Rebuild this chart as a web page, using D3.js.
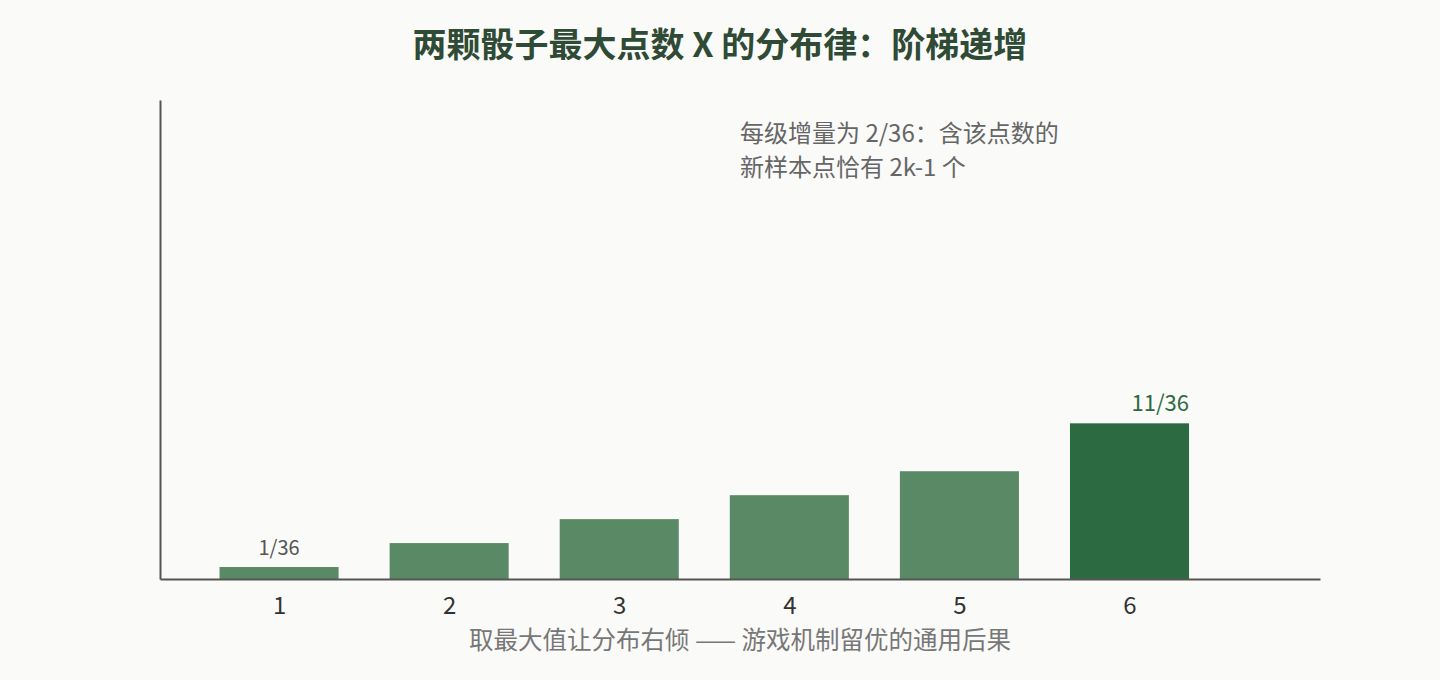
<!DOCTYPE html>
<html>
<head>
<meta charset="utf-8">
<script src="https://cdn.jsdelivr.net/npm/d3@7"></script>
<style>
  body { margin: 0; background: #fafaf8; }
  text { font-family: "Noto Sans CJK SC", "Noto Sans", sans-serif; }
</style>
</head>
<body>
<div id="chart"></div>
<script>
// values, in units of 1/36
var categories = [1, 2, 3, 4, 5, 6];
var counts = [1, 3, 5, 7, 9, 13];
var valueLabels = ["1/36", "", "", "", "", "11/36"];
var tickLabels = ["1", "2", "3", "4", "5", "6"];

var title = "两颗骰子最大点数 X 的分布律：阶梯递增";
var xTitle = "取最大值让分布右倾 —— 游戏机制留优的通用后果";
var note = ["每级增量为 2/36：含该点数的", "新样本点恰有 2k-1 个"];

var width = 1440, height = 680;
var margin = {top: 100, right: 120, bottom: 101, left: 160};

var svg = d3.select("#chart")
  .append("svg")
    .attr("width", width)
    .attr("height", height);

svg.append("rect")
  .attr("width", width)
  .attr("height", height)
  .attr("fill", "#fafaf8");

var x = d3.scaleLinear()
  .domain([0.3, 7.12])
  .range([margin.left, width - margin.right]);

var y = d3.scaleLinear()
  .domain([0, 40])
  .range([height - margin.bottom, margin.top]);

var barW = x(0.35) - x(-0.35);

// bars
svg.selectAll("rect.bar")
  .data(categories)
  .enter()
  .append("rect")
    .attr("class", "bar")
    .attr("x", function(d) { return x(d) - barW / 2; })
    .attr("y", function(d, i) { return y(counts[i]); })
    .attr("width", barW)
    .attr("height", function(d, i) { return y(0) - y(counts[i]); })
    .attr("fill", function(d, i) { return i == categories.length - 1 ? "#2c6b41" : "#5a8a65"; });

// axes
var xAxis = svg.append("g")
  .attr("transform", "translate(0," + y(0) + ")")
  .call(d3.axisBottom(x)
    .tickValues(categories)
    .tickFormat(function(d, i) { return tickLabels[i]; })
    .tickSize(0)
    .tickPadding(18));
xAxis.select(".domain").attr("stroke", "#555").attr("stroke-width", 2);
xAxis.selectAll("text")
  .attr("font-size", 24)
  .attr("fill", "#333");

var yAxis = svg.append("g")
  .attr("transform", "translate(" + margin.left + ",0)")
  .call(d3.axisLeft(y).tickValues([]).tickSize(0));
yAxis.select(".domain").attr("stroke", "#555").attr("stroke-width", 2);

// value labels
svg.selectAll("text.val")
  .data(categories)
  .enter()
  .append("text")
    .attr("class", "val")
    .attr("x", function(d, i) { return i == categories.length - 1 ? x(d) + barW / 2 : x(d); })
    .attr("y", function(d, i) { return y(counts[i]) - 12; })
    .attr("text-anchor", function(d, i) { return i == categories.length - 1 ? "end" : "middle"; })
    .attr("font-size", function(d, i) { return i == categories.length - 1 ? 22 : 20; })
    .attr("fill", function(d, i) { return i == categories.length - 1 ? "#2c6b41" : "#555"; })
    .text(function(d, i) { return valueLabels[i]; });

// title
svg.append("text")
  .attr("x", width / 2)
  .attr("y", 57)
  .attr("text-anchor", "middle")
  .attr("font-size", 34)
  .attr("font-weight", "bold")
  .attr("fill", "#2f4a35")
  .text(title);

// x title
svg.append("text")
  .attr("x", (margin.left + width - margin.right) / 2)
  .attr("y", 649)
  .attr("text-anchor", "middle")
  .attr("font-size", 24.5)
  .attr("fill", "#777")
  .text(xTitle);

// annotation
svg.append("g").selectAll("text")
  .data(note)
  .enter()
  .append("text")
    .attr("x", 740)
    .attr("y", function(d, i) { return 142 + i * 34; })
    .attr("font-size", 24)
    .attr("fill", "#666")
    .text(function(d) { return d; });
</script>
</body>
</html>
